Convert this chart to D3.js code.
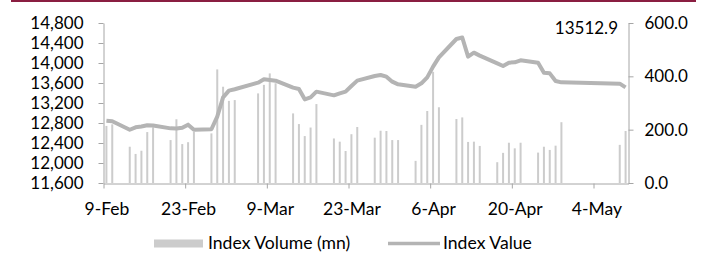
<!DOCTYPE html>
<html>
<head>
<meta charset="utf-8">
<script src="https://cdn.jsdelivr.net/npm/d3@7"></script>
<style>
body { margin: 0; background: #fff; }
svg { display: block; font-family: Lato, sans-serif; }
</style>
</head>
<body>
<div id="chart"></div>
<script>
// trading days (2022)
const dates = [
    '2022-02-09', '2022-02-10',
    '2022-02-13', '2022-02-14', '2022-02-15', '2022-02-16', '2022-02-17',
    '2022-02-20', '2022-02-21', '2022-02-22', '2022-02-23', '2022-02-24',
    '2022-02-27', '2022-02-28', '2022-03-01', '2022-03-02', '2022-03-03',
    '2022-03-07', '2022-03-08', '2022-03-09', '2022-03-10',
    '2022-03-13', '2022-03-14', '2022-03-15', '2022-03-16', '2022-03-17',
    '2022-03-20', '2022-03-21', '2022-03-22', '2022-03-23', '2022-03-24',
    '2022-03-27', '2022-03-28', '2022-03-29', '2022-03-30', '2022-03-31',
    '2022-04-03', '2022-04-04', '2022-04-05', '2022-04-06', '2022-04-07',
    '2022-04-10', '2022-04-11', '2022-04-12', '2022-04-13', '2022-04-14',
    '2022-04-17', '2022-04-18', '2022-04-19', '2022-04-20', '2022-04-21',
    '2022-04-24', '2022-04-25', '2022-04-26', '2022-04-27', '2022-04-28',
    '2022-05-08', '2022-05-09'
];

// Index Volume (mn)
const volume = [
    214, 220,
    136, 109, 121, 191, 209,
    161, 239, 146, 153, 192,
    186, 426, 361, 308, 311,
    336, 368, 411, 374,
    261, 221, 176, 208, 296,
    167, 155, 120, 183, 210,
    170, 196, 195, 161, 161,
    83, 218, 270, 417, 284,
    240, 246, 154, 155, 139,
    78, 113, 151, 130, 151,
    114, 136, 124, 140, 228,
    143, 195
];

// Index Value
const indexValue = [
    12846, 12835,
    12665, 12713, 12730, 12755, 12750,
    12693, 12690, 12705, 12767, 12665,
    12675, 12927, 13313, 13447, 13475,
    13607, 13673, 13660, 13647,
    13507, 13480, 13273, 13313, 13427,
    13353, 13393, 13427, 13540, 13647,
    13740, 13760, 13727, 13627, 13573,
    13527, 13593, 13713, 13927, 14113,
    14480, 14510, 14127, 14207, 14147,
    13993, 13940, 14007, 14013, 14053,
    14007, 13807, 13793, 13640, 13613,
    13587, 13512.9
];

const tickDates = ['2022-02-09', '2022-02-23', '2022-03-09', '2022-03-23', '2022-04-06', '2022-04-20', '2022-05-04'];
const tickLabels = ['9-Feb', '23-Feb', '9-Mar', '23-Mar', '6-Apr', '20-Apr', '4-May'];
const leftTicks = [11600, 12000, 12400, 12800, 13200, 13600, 14000, 14400, 14800];
const rightTicks = [0, 200, 400, 600];
const lastLabel = '13512.9';

function createChart() {
    const width = 705, height = 253;
    const axisColor = '#a6a6a6';

    const svg = d3.select('#chart')
        .append('svg')
        .attr('width', width)
        .attr('height', height);

    // maroon rule at the top
    svg.append('rect')
        .attr('x', 11).attr('y', 0)
        .attr('width', 685).attr('height', 2)
        .attr('fill', '#8a1e41');

    const parse = d3.utcParse('%Y-%m-%d');
    const x = d3.scaleUtc()
        .domain([parse('2022-02-09'), parse('2022-05-10')])
        .range([103.5, 628.5]);
    const half = (x(parse('2022-02-10')) - x(parse('2022-02-09'))) / 2;

    const yL = d3.scaleLinear().domain([11600, 14800]).range([183, 23]);
    const yR = d3.scaleLinear().domain([0, 600]).range([183, 23]);

    const rows = dates.map((d, i) => ({ date: parse(d), vol: volume[i], val: indexValue[i] }));

    // volume bars
    svg.append('g')
        .selectAll('rect')
        .data(rows)
        .enter()
        .append('rect')
        .attr('x', d => x(d.date) + half - 1)
        .attr('width', 2)
        .attr('y', d => yR(d.vol))
        .attr('height', d => yR(0) - yR(d.vol))
        .attr('fill', '#cccccc');

    // index line
    const line = d3.line()
        .x(d => x(d.date) + half)
        .y(d => yL(d.val));

    svg.append('path')
        .datum(rows)
        .attr('d', line)
        .attr('fill', 'none')
        .attr('stroke', '#b4b4b4')
        .attr('stroke-width', 4)
        .attr('stroke-linejoin', 'round');

    // axes
    const left = svg.append('g')
        .attr('transform', 'translate(103.5,0)')
        .call(d3.axisLeft(yL).tickValues(leftTicks).tickFormat(d3.format(',')).tickSize(5).tickSizeOuter(0).tickPadding(15));

    const right = svg.append('g')
        .attr('transform', 'translate(628.5,0)')
        .call(d3.axisRight(yR).tickValues(rightTicks).tickFormat(d3.format('.1f')).tickSize(5).tickSizeOuter(0).tickPadding(11));

    const bottom = svg.append('g')
        .attr('transform', 'translate(0,183.5)')
        .call(d3.axisBottom(x).tickValues(tickDates.map(parse)).tickFormat((d, i) => tickLabels[i]).tickSize(5).tickSizeOuter(0).tickPadding(14));
    bottom.selectAll('text').attr('x', half);

    [left, right, bottom].forEach(g => {
        g.selectAll('path, line').attr('stroke', axisColor);
        g.selectAll('text').attr('fill', '#000').style('font-size', '17px').style('font-family', 'Lato, sans-serif');
    });
    bottom.selectAll('text').style('font-size', '17.5px');

    // last value label
    svg.append('text')
        .attr('x', 618).attr('y', 33.5)
        .attr('text-anchor', 'end')
        .style('font-size', '17px')
        .text(lastLabel);

    // legend
    const legend = svg.append('g').style('font-size', '17.6px');
    legend.append('rect')
        .attr('x', 154).attr('y', 239.5)
        .attr('width', 49).attr('height', 8)
        .attr('fill', '#cccccc');
    legend.append('text')
        .attr('x', 208).attr('y', 248.5)
        .text('Index Volume (mn)');
    legend.append('line')
        .attr('x1', 388).attr('x2', 440)
        .attr('y1', 243.5).attr('y2', 243.5)
        .attr('stroke', '#b4b4b4')
        .attr('stroke-width', 3.5);
    legend.append('text')
        .attr('x', 443).attr('y', 248.5)
        .text('Index Value');
}

createChart();
</script>
</body>
</html>
